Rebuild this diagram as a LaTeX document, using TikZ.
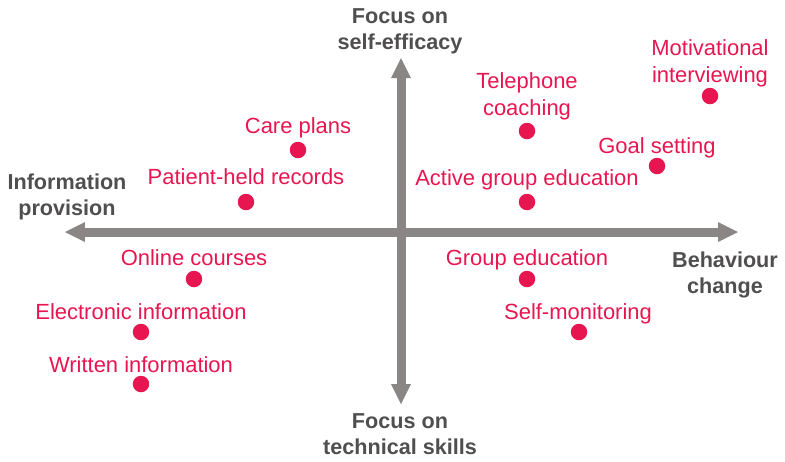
\documentclass[tikz,border=0pt]{standalone}
\usepackage{fontspec}
\setmainfont{Liberation Sans}
\usepackage{tikz}
\usetikzlibrary{arrows.meta}

\definecolor{axisgray}{RGB}{138,134,134}
\definecolor{textgray}{RGB}{80,78,78}
\definecolor{dotpink}{RGB}{232,22,80}

\begin{document}
\begin{tikzpicture}[x=0.02cm, y=-0.02cm,
  axis/.style={draw=axisgray, line width=0.18cm, >={Triangle[length=0.4cm, width=0.4cm, line width=0pt]}, <->},
  pole/.style={text=textgray, font=\bfseries\fontsize{12.3}{14.7}\selectfont, align=center, anchor=base, inner sep=0pt},
  item/.style={text=dotpink, font=\fontsize{12.5}{15}\selectfont, align=center, anchor=base, inner sep=0pt},
  dot/.style={circle, fill=dotpink, minimum size=0.33cm, inner sep=0pt}]
\useasboundingbox (0,0) rectangle (785,461);
\coordinate (ax-w) at (65,232);
\coordinate (ax-e) at (738,232);
\coordinate (ax-n) at (401,58);
\coordinate (ax-s) at (401,404);
\draw[axis] (ax-w)--(ax-e);
\draw[axis] (ax-s)--(ax-n);
\node[pole] (selfeff) at (400,49) {Focus on\\self-efficacy};
\node[pole] (infoprov) at (67,215) {Information\\provision};
\node[pole] (behchange) at (725,293) {Behaviour\\change};
\node[pole] (techskills) at (400,454) {Focus on\\technical skills};
\node[dot] (motiv) at (710,96) {};
\node[item] (motiv-l) at (710,82) {Motivational\\interviewing};
\node[dot] (phone) at (527,131) {};
\node[item] (phone-l) at (527,115) {Telephone\\coaching};
\node[dot] (goal) at (657,166) {};
\node[item] (goal-l) at (657,153) {Goal setting};
\node[dot] (activegrp) at (527,202) {};
\node[item] (activegrp-l) at (527,185) {Active group education};
\node[dot] (grp) at (527,279) {};
\node[item] (grp-l) at (527,265) {Group education};
\node[dot] (selfmon) at (579,332) {};
\node[item] (selfmon-l) at (578,319) {Self-monitoring};
\node[dot] (care) at (298,150) {};
\node[item] (care-l) at (298,133) {Care plans};
\node[dot] (records) at (246,202) {};
\node[item] (records-l) at (246,184) {Patient-held records};
\node[dot] (online) at (194,279) {};
\node[item] (online-l) at (194,265) {Online courses};
\node[dot] (elec) at (141,332) {};
\node[item] (elec-l) at (141,319) {Electronic information};
\node[dot] (written) at (141,384) {};
\node[item] (written-l) at (141,372) {Written information};
\end{tikzpicture}
\end{document}
